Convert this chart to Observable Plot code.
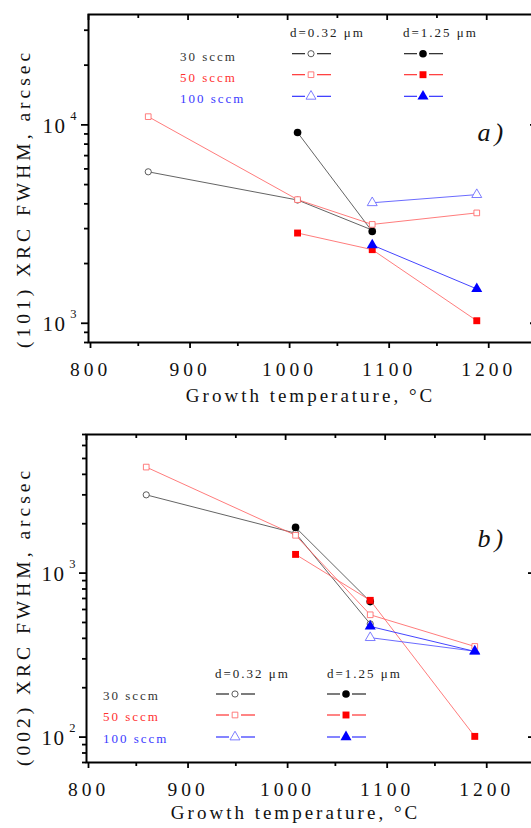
<!DOCTYPE html>
<html><head><meta charset="utf-8">
<script src="https://cdn.jsdelivr.net/npm/d3@7"></script>
<script src="https://cdn.jsdelivr.net/npm/@observablehq/plot@0.6"></script>
<style>
html,body{margin:0;padding:0;background:#fff;overflow:hidden;width:531px;height:828px}
#wrap{width:540px}
#wrap>div,#wrap svg{display:block}
#wrap svg{max-width:none !important;width:540px}
svg text{font-family:"Liberation Serif","Times New Roman","DejaVu Serif",serif !important}
.xt text{letter-spacing:4px}
.lsx{letter-spacing:3px}
.lsy{letter-spacing:4px}
.ten{letter-spacing:1.5px}
.leg text{letter-spacing:2px;font-size:13px}
.pl{letter-spacing:4px}
</style></head><body><div id="wrap"></div>
<script>
// ---- data ----
const temps = [860, 1010, 1085, 1190];
// panel a: (101) XRC FWHM, arcsec
const a30thin  = [5800, 4180, 2950, null];
const a30thick = [null, 9150, 2900, null];
const a50thin  = [11000, 4200, 3150, 3600];
const a50thick = [null, 2850, 2350, 1030];
const a100thin = [null, null, 4050, 4450];
const a100thick= [null, null, 2480, 1490];
// panel b: (002) XRC FWHM, arcsec
const b30thin  = [3000, 1750, 490, null];
const b30thick = [null, 1900, 670, null];
const b50thin  = [4430, 1700, 557, 357];
const b50thick = [null, 1300, 682, 101];
const b100thin = [null, null, 404, 334];
const b100thick= [null, null, 473, 333];

const xMajor = [800, 900, 1000, 1100, 1200];
const xMinor = [850, 950, 1050, 1150];
const yMajorA = [1000, 10000];
const yMinorA = [800, 900, 2000, 3000, 4000, 5000, 6000, 7000, 8000, 9000, 20000, 30000];
const yMajorB = [100, 1000];
const yMinorB = [70, 80, 90, 200, 300, 400, 500, 600, 700, 800, 900, 2000, 3000, 4000, 5000, 6000, 7000];
const flowLabels = ["30 sccm", "50 sccm", "100 sccm"];
const thickLabels = ["d=0.32 \u03bcm", "d=1.25 \u03bcm"];

// ---- styles ----
const styles = {
  "30-thin":   {line:"#3c3c3c", leg:"#111", lw:0.8, sym:"circle",   fill:"white",  stroke:"#4a4a4a", r:3.1, sw:0.9},
  "30-thick":  {line:"#3c3c3c", leg:"#111", lw:0.8, sym:"circle",   fill:"#000",   stroke:"none",    r:3.8, sw:0},
  "50-thin":   {line:"#ff5a5a", leg:"#ff2020", lw:0.8, sym:"square",   fill:"white",  stroke:"#ff6e6e", r:3.2, sw:0.9},
  "50-thick":  {line:"#ff5a5a", leg:"#ff2020", lw:0.8, sym:"square",   fill:"#ff0000",stroke:"none",    r:3.9, sw:0},
  "100-thin":  {line:"#5a5aff", leg:"#2020ff", lw:0.9, sym:"triangle", fill:"white",  stroke:"#6e6eff", r:3.7, sw:0.9},
  "100-thick": {line:"#3030ff", leg:"#2020ff", lw:0.9, sym:"triangle", fill:"#0000ff",stroke:"none",    r:4.1, sw:0}
};
const labelColors = ["#333", "#ff3030", "#3a3aff"];
const symTypes = {circle: d3.symbolCircle, square: d3.symbolSquare, triangle: d3.symbolTriangle};

function rows(vals){ return temps.map((t,i)=>({t, v: vals[i]})).filter(d=>d.v!=null); }

function seriesMarks(set){
  const m = [];
  for (const [k, vals] of set) {
    const s = styles[k];
    m.push(Plot.line(rows(vals), {x:"t", y:"v", stroke:s.line, strokeWidth:s.lw}));
  }
  for (const [k, vals] of set) {
    const s = styles[k];
    m.push(Plot.dot(rows(vals), {x:"t", y:"v", symbol:s.sym, r:s.r, fill:s.fill, stroke:s.stroke, strokeWidth:s.sw}));
  }
  return m;
}

function legendMark(L){
  return (index, scales, values, dim) => {
    const g = d3.create("svg:g").attr("class","leg").attr("text-anchor","start");
    const ox = dim.marginLeft, oy = dim.marginTop;
    thickLabels.forEach((t,j)=>{
      g.append("text").attr("x", ox + L.colText[j]).attr("y", oy + L.headY).attr("dy","0.32em")
        .attr("text-anchor","start").attr("fill","#222").text(t);
    });
    const keys = [["30-thin","30-thick"],["50-thin","50-thick"],["100-thin","100-thick"]];
    flowLabels.forEach((t,i)=>{
      const cy = oy + L.rowY[i];
      g.append("text").attr("x", ox + L.labX).attr("y", cy).attr("dy","0.32em")
        .attr("text-anchor","start").attr("fill", labelColors[i]).text(t);
      keys[i].forEach((k,j)=>{
        const s = styles[k];
        const mx = ox + L.colMark[j], my = cy - L.markUp;
        g.append("line").attr("x1", mx-19).attr("x2", mx-6).attr("y1", my).attr("y2", my)
          .attr("stroke", s.leg).attr("stroke-width",1.1);
        g.append("line").attr("x1", mx+6).attr("x2", mx+20).attr("y1", my).attr("y2", my)
          .attr("stroke", s.leg).attr("stroke-width",1.1);
        g.append("path").attr("transform", `translate(${mx},${my})`)
          .attr("d", d3.symbol(symTypes[s.sym], Math.PI*s.r*s.r)())
          .attr("fill", s.fill).attr("stroke", s.stroke).attr("stroke-width", s.sw);
      });
    });
    return g.node();
  };
}

function panel(o){
  const innerW = o.width - o.ml - o.mr, innerH = o.height - o.mt - o.mb;
  return Plot.plot({
    width: o.width, height: o.height,
    marginLeft: o.ml, marginRight: o.mr, marginTop: o.mt, marginBottom: o.mb,
    style: {background:"white", overflow:"visible", maxWidth:"none"},
    x: {domain:[800,1250]},
    y: {type:"log", domain:o.ydomain},
    marks: [
      ...seriesMarks(o.series),
      Plot.axisX({ticks:xMajor, tickSize:6, tickPadding:14, fontSize:19.5, tickFormat:d=>String(d), label:null, strokeWidth:1.8, dx:2, className:"xt", fill:"#111"}),
      Plot.axisX({ticks:xMinor, tickSize:4, tickFormat:()=>"", label:null, strokeWidth:1.8}),
      Plot.tickX(xMajor, {x:d=>d, insetBottom: innerH-6, strokeWidth:1.8}),
      Plot.tickX(xMinor, {x:d=>d, insetBottom: innerH-4, strokeWidth:1.8}),
      Plot.axisY({ticks:o.yMajor, tickSize:7, tickFormat:()=>"", label:null, strokeWidth:1.8}),
      Plot.axisY({ticks:o.yMinor, tickSize:4, tickFormat:()=>"", label:null, strokeWidth:1.8}),
      Plot.tickY(o.yMajor, {y:d=>d, insetLeft: innerW-6, strokeWidth:1.8}),
      Plot.text(o.yMajor, {y:d=>d, frameAnchor:"left", text:()=>"10", dx:o.tenDx, dy:1, textAnchor:"end", lineAnchor:"middle", fontSize:21, fill:"#111", className:"ten"}),
      Plot.text(o.yMajor, {y:d=>d, frameAnchor:"left", text:d=>String(Math.round(Math.log10(d))), dx:o.supDx, dy:-9, textAnchor:"end", lineAnchor:"middle", fontSize:12.5, fill:"#111"}),
      Plot.text([o.xlabel], {frameAnchor:"bottom", text:d=>d, dx:o.xlDx, dy:o.xlDy, fontSize:19, textAnchor:"middle", lineAnchor:"middle", fill:"#111", className:"lsx"}),
      Plot.text([o.ylabel], {frameAnchor:"left", text:d=>d, rotate:-90, dx:o.ylDx, dy:o.ylDy, fontSize:19.5, textAnchor:"middle", lineAnchor:"middle", fill:"#111", className:"lsy"}),
      Plot.text([o.tag], {frameAnchor:"top-left", text:d=>d, dx:o.tagDx, dy:o.tagDy, fontSize:26, fontStyle:"italic", textAnchor:"start", lineAnchor:"middle", fill:"#111", className:"pl"}),
      legendMark(o.legend),
      Plot.frame({strokeWidth:2})
    ]
  });
}

const wrap = document.getElementById("wrap");
wrap.append(panel({
  width:540, height:400, ml:88, mr:4, mt:14, mb:58, ydomain:[800,36000],
  yMajor:yMajorA, yMinor:yMinorA, tenDx:-22, supDx:-12,
  series:[["30-thin",a30thin],["30-thick",a30thick],["50-thin",a50thin],["50-thick",a50thick],["100-thin",a100thin],["100-thick",a100thick]],
  xlabel:"Growth temperature, \u00b0C", xlDx:-2, xlDy:53,
  ylabel:"(101) XRC FWHM, arcsec", ylDx:-65, ylDy:20,
  tag:"a)", tagDx:389, tagDy:118,
  legend:{colText:[202,315], headY:19, labX:92, rowY:[42.7,63.7,85.3], colMark:[223,335], markUp:3}
}));
wrap.append(panel({
  width:540, height:428, ml:86, mr:6, mt:34, mb:66, ydomain:[70,7000],
  yMajor:yMajorB, yMinor:yMinorB, tenDx:-21, supDx:-11,
  series:[["30-thin",b30thin],["30-thick",b30thick],["50-thin",b50thin],["50-thick",b50thick],["100-thin",b100thin],["100-thick",b100thick]],
  xlabel:"Growth temperature, \u00b0C", xlDx:-15, xlDy:50,
  ylabel:"(002) XRC FWHM, arcsec", ylDx:-63, ylDy:18,
  tag:"b)", tagDx:391, tagDy:104,
  legend:{colText:[129,241], headY:240, labX:17, rowY:[262,283,305], colMark:[149,260], markUp:2}
}));
</script></body></html>
